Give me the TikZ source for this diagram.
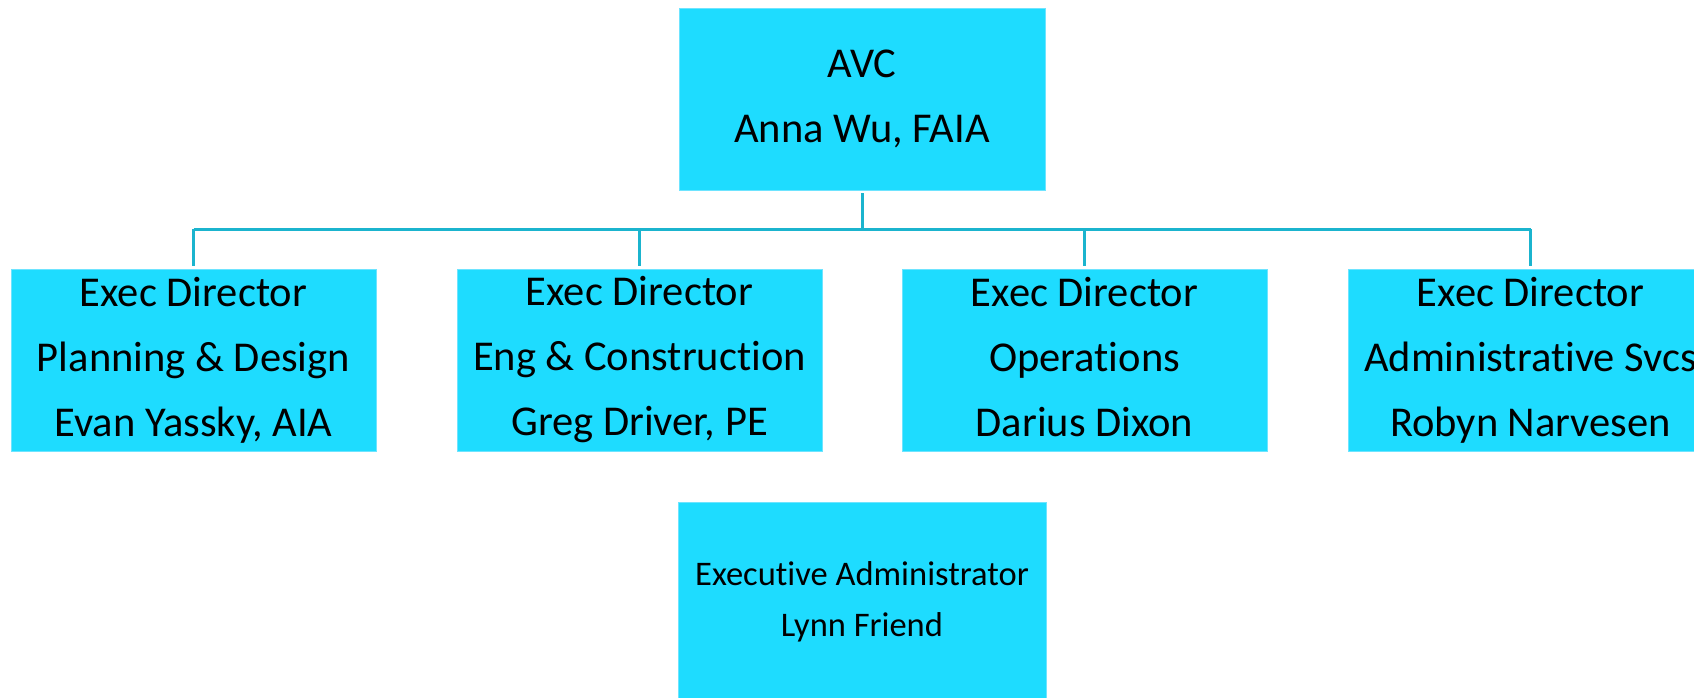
\documentclass[tikz,border=0pt]{standalone}
\usepackage{fontspec}
\setmainfont{Carlito}[Ligatures={NoCommon}]
\definecolor{boxfill}{RGB}{30,220,255}
\definecolor{boxedge}{RGB}{110,228,255}
\definecolor{linec}{RGB}{27,180,206}
\tikzset{
  orgbox/.style={rectangle, fill=boxfill, draw=boxedge, line width=0.8pt, inner sep=0pt, align=center, text=black},
  dirbox/.style={orgbox, minimum width=365pt, minimum height=182pt, font=\fontsize{42.5}{65}\selectfont},
  conn/.style={draw=linec, line width=3pt}
}
\begin{document}
\begin{tikzpicture}[x=1pt,y=1pt]
\useasboundingbox (0,0) rectangle (1694,697);
\clip (0,0) rectangle (1694,697);
\fill[white] (0,0) rectangle (1694,697);
\node[orgbox, minimum width=366pt, minimum height=182pt, font=\fontsize{42.5}{65}\selectfont] (avc) at (862,598) {AVC\\Anna Wu, FAIA};
\node[dirbox] (d1) at (193.5,337) {Exec Director\\Planning \& Design\\Evan Yassky, AIA};
\node[dirbox] (d2) at (639.5,337) {Exec Director\\Eng \& Construction\\Greg Driver, PE};
\node[dirbox] (d3) at (1084.5,337) {Exec Director\\Operations\\Darius Dixon\vphantom{y}};
\node[dirbox] (d4) at (1530.5,337) {Exec Director\\Administrative Svcs\\Robyn Narvesen};
\node[orgbox, minimum width=368pt, minimum height=200pt, font=\fontsize{34.5}{51}\selectfont] (ea) at (862,95) {Executive Administrator\\Lynn Friend};
\coordinate (bus) at (862,467.5);
\draw[conn] ([yshift=-3pt]avc.south) -- (avc.south |- bus);
\draw[conn] (d1.north |- bus) -- (d4.north |- bus);
\draw[conn] (d1.north |- bus) -- ([yshift=3pt]d1.north);
\draw[conn] (d2.north |- bus) -- ([yshift=3pt]d2.north);
\draw[conn] (d3.north |- bus) -- ([yshift=3pt]d3.north);
\draw[conn] (d4.north |- bus) -- ([yshift=3pt]d4.north);
\end{tikzpicture}
\end{document}
